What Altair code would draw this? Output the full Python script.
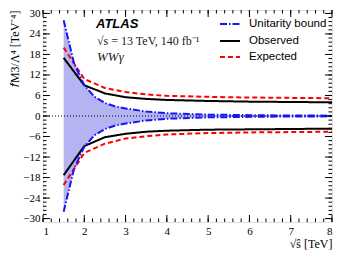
import altair as alt
import pandas as pd
import numpy as np

# ---- data ----
sqrt_s = [1.5, 2.0, 2.5, 3.0, 3.5, 4.0, 5.0, 6.0, 7.0, 8.0]
obs_up = [17.0, 9.0, 6.6, 5.5, 5.0, 4.7, 4.4, 4.2, 4.1, 4.0]
obs_lo = [-17.3, -8.8, -6.2, -5.2, -4.6, -4.3, -4.0, -3.9, -3.8, -3.7]
exp_up = [20.0, 10.8, 8.2, 7.0, 6.3, 5.9, 5.6, 5.4, 5.3, 5.2]
exp_lo = [-20.2, -10.8, -8.1, -6.6, -5.9, -5.4, -5.0, -4.8, -4.7, -4.6]

unit_x = [1.5, 1.75, 2.0, 2.25, 2.5, 2.75, 3.0, 3.5, 4.0, 5.0, 6.0, 7.0, 8.0]
unit_up = [28.0, 15.5, 9.0, 5.6, 3.8, 2.8, 2.2, 1.3, 0.8, 0.4, 0.25, 0.15, 0.1]
unit_lo = [-28.0, -15.5, -9.0, -5.6, -3.8, -2.8, -2.2, -1.3, -0.8, -0.4, -0.25, -0.15, -0.1]

series_names = ["Unitarity bound", "Observed", "Expected"]
series_colors = ["#1515f5", "#000000", "#ff0000"]
series_dash = [[7, 2, 1.5, 2], [1, 0], [5, 3]]

x_major = [1, 2, 3, 4, 5, 6, 7, 8]
y_major = [-30, -24, -18, -12, -6, 0, 6, 12, 18, 24, 30]
x_minor = [round(v, 2) for v in np.arange(1.0, 8.001, 0.2)]
y_minor = [round(v, 2) for v in np.arange(-30.0, 30.001, 1.2)]

W, H = 289, 212

rows = []
for x, u, l in zip(sqrt_s, obs_up, obs_lo):
    rows.append(dict(x=x, y=u, series="Observed", side="up"))
    rows.append(dict(x=x, y=l, series="Observed", side="lo"))
for x, u, l in zip(sqrt_s, exp_up, exp_lo):
    rows.append(dict(x=x, y=u, series="Expected", side="up"))
    rows.append(dict(x=x, y=l, series="Expected", side="lo"))
for x, u, l in zip(unit_x, unit_up, unit_lo):
    rows.append(dict(x=x, y=u, series="Unitarity bound", side="up"))
    rows.append(dict(x=x, y=l, series="Unitarity bound", side="lo"))
lines_df = pd.DataFrame(rows)
band_df = pd.DataFrame({"x": unit_x, "up": unit_up, "lo": unit_lo})

xs = alt.Scale(domain=[1, 8], nice=False, zero=False)
ys = alt.Scale(domain=[-31, 31], nice=False, zero=False)

serif = "Liberation Serif"
sans = "Liberation Sans"

x_axis = alt.Axis(values=x_major, ticks=False, domain=False, grid=False, labelOverlap=False,
                  labelFont=serif, labelFontSize=11, labelColor="black", labelPadding=3,
                  title="√ŝ [TeV]", titleFont=serif, titleFontSize=12, titleFontWeight="normal",
                  titleAnchor="end", titleColor="black", titlePadding=2)
y_axis = alt.Axis(values=y_major, ticks=False, domain=False, grid=False, labelOverlap=False,
                  labelFont=serif, labelFontSize=11, labelColor="black", labelPadding=3,
                  title="𝑓M3/Λ⁴ [TeV⁻⁴]", titleFont=serif, titleFontSize=12,
                  titleFontWeight="normal", titleAnchor="end", titleColor="black",
                  titlePadding=1)

band = alt.Chart(band_df).mark_area(color="#acacf2", opacity=0.9).encode(
    x=alt.X("x:Q", scale=xs, axis=x_axis),
    y=alt.Y("up:Q", scale=ys, axis=y_axis),
    y2="lo:Q",
)

zero = alt.Chart(pd.DataFrame({"y": [0]})).mark_rule(
    color="black", strokeDash=[1, 2], strokeWidth=1
).encode(y=alt.Y("y:Q", scale=ys, axis=y_axis))

lines = alt.Chart(lines_df).mark_line(strokeWidth=2).encode(
    x=alt.X("x:Q", scale=xs, axis=x_axis),
    y=alt.Y("y:Q", scale=ys, axis=y_axis),
    color=alt.Color("series:N", scale=alt.Scale(domain=series_names, range=series_colors), legend=None),
    strokeDash=alt.StrokeDash("series:N", scale=alt.Scale(domain=series_names, range=series_dash), legend=None),
    detail="side:N",
)

# inward ticks on all four sides
def xticks(vals, length):
    d = pd.DataFrame({"v": vals})
    b = alt.Chart(d).mark_rule(color="black", strokeWidth=1).encode(
        x=alt.X("v:Q", scale=xs, axis=x_axis), y=alt.value(H), y2=alt.value(H - length))
    t = alt.Chart(d).mark_rule(color="black", strokeWidth=1).encode(
        x=alt.X("v:Q", scale=xs, axis=x_axis), y=alt.value(0), y2=alt.value(length))
    return [b, t]

def yticks(vals, length):
    d = pd.DataFrame({"v": vals})
    l = alt.Chart(d).mark_rule(color="black", strokeWidth=1).encode(
        y=alt.Y("v:Q", scale=ys, axis=y_axis), x=alt.value(0), x2=alt.value(length))
    r = alt.Chart(d).mark_rule(color="black", strokeWidth=1).encode(
        y=alt.Y("v:Q", scale=ys, axis=y_axis), x=alt.value(W), x2=alt.value(W - length))
    return [l, r]

ticks = xticks(x_major, 7) + xticks(x_minor, 3.5) + yticks(y_major, 7) + yticks(y_minor, 3.5)

# legend
leg_df = pd.DataFrame({"series": series_names, "py": [14, 31, 47]})
leg_lines = alt.Chart(leg_df).mark_rule(strokeWidth=2).encode(
    x=alt.value(177), x2=alt.value(197),
    y=alt.Y("py:Q", scale=None),
    color=alt.Color("series:N", scale=alt.Scale(domain=series_names, range=series_colors), legend=None),
    strokeDash=alt.StrokeDash("series:N", scale=alt.Scale(domain=series_names, range=series_dash), legend=None),
)
leg_text = alt.Chart(leg_df).mark_text(align="left", baseline="middle", font=sans,
                                       fontSize=11.5, color="black").encode(
    x=alt.value(206), y=alt.Y("py:Q", scale=None), text="series:N")

atlas = alt.Chart(pd.DataFrame({"t": ["ATLAS"]})).mark_text(
    align="left", baseline="middle", font=sans, fontSize=13, fontWeight="bold",
    fontStyle="italic", color="black").encode(x=alt.value(53), y=alt.value(14), text="t:N")
energy = alt.Chart(pd.DataFrame({"t": ["√s = 13 TeV, 140 fb⁻¹"]})).mark_text(
    align="left", baseline="middle", font=serif, fontSize=12, color="#222222").encode(
    x=alt.value(54), y=alt.value(31), text="t:N")
proc = alt.Chart(pd.DataFrame({"t": ["WWγ"]})).mark_text(
    align="left", baseline="middle", font=serif, fontSize=13, fontStyle="italic",
    color="#222222").encode(x=alt.value(54), y=alt.value(47), text="t:N")

chart = alt.layer(band, zero, lines, *ticks, leg_lines, leg_text, atlas, energy, proc).properties(
    width=W, height=H,
    autosize=alt.AutoSizeParams(type="none"),
    padding={"left": 35, "top": 2, "right": 4, "bottom": 36},
).configure_view(stroke="black", strokeWidth=1.5).configure_axis(
    labelOverlap=False
).configure(background="white")

chart.save("out.html", embed_options={"renderer": "svg", "actions": False})
